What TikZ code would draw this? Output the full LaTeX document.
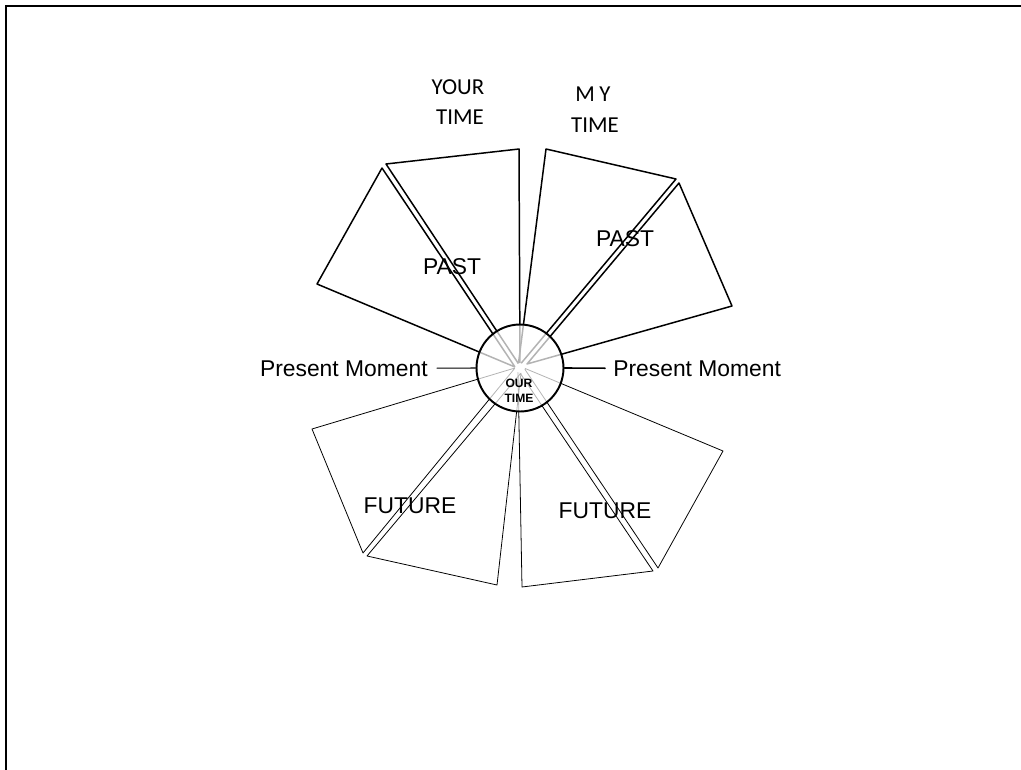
\documentclass[tikz,border=0pt]{standalone}
\usepackage{fontspec}
\setmainfont{Liberation Sans}
\newfontfamily\calibri{Carlito}
\usetikzlibrary{positioning}
\tikzset{
  pastwedge/.style={draw, line width=0.85pt},
  futurewedge/.style={draw, line width=0.45pt},
  biglabel/.style={font=\fontsize{13}{15}\selectfont, inner sep=0pt, anchor=base},
  timelabel/.style={font=\calibri\fontsize{13}{15}\selectfont, inner sep=0pt, anchor=base},
}
\begin{document}
\begin{tikzpicture}[x=0.02cm, y=-0.02cm, line cap=round, line join=round]
  \useasboundingbox (0,0) rectangle (1021,770);

  % frame (only top and left edges are visible)
  \draw[line width=1.4pt, line cap=butt, line join=miter] (6,770) -- (6,6) -- (1021,6);

  % past wedges, upper half
  \draw[pastwedge] (515,367) -- (317,284) -- (382,168) -- cycle;
  \draw[pastwedge] (520,366) -- (386,164) -- (519,149) -- cycle;
  \draw[pastwedge] (518,367) -- (546,149) -- (676,179) -- cycle;
  \draw[pastwedge] (527,364) -- (679,183) -- (732,306) -- cycle;

  % future wedges, lower half
  \draw[futurewedge] (515,368) -- (312,429) -- (363,553) -- cycle;
  \draw[futurewedge] (521,373) -- (367,556) -- (497,585) -- cycle;
  \draw[futurewedge] (518,370) -- (522,587) -- (653,571) -- cycle;
  \draw[futurewedge] (524,368) -- (658,568) -- (723,451) -- cycle;

  % centre disc
  \node[circle, draw, line width=1.1pt, fill=white, fill opacity=0.7, draw opacity=1,
        inner sep=0pt, minimum size=1.74cm] (ourtime) at (520,368) {};
  \fill[white] (ourtime.center) circle (0.1cm);
  \node[align=center, inner sep=0pt, anchor=north, font=\fontsize{6.9}{8.4}\selectfont\bfseries]
        (ourtxt) at (519,379) {OUR\\TIME};

  % labels of the two halves
  \node[timelabel] (yourtop) at (458,95) {YOUR};
  \node[timelabel] (yourbot) at (460,125) {TIME};
  \node[timelabel] (mytop) at (593,102) {M\kern2.5pt Y};
  \node[timelabel] (mybot) at (595,133) {TIME};

  \node[biglabel] (pastL) at (452,275) {PAST};
  \node[biglabel] (pastR) at (625,247) {PAST};
  \node[biglabel] (futL) at (410,513) {FUTURE};
  \node[biglabel] (futR) at (605,518) {FUTURE};

  % present moment markers
  \node[biglabel, anchor=base east] (pmleft) at (428,376) {Present Moment};
  \node[biglabel, anchor=base west] (pmright) at (613,376) {Present Moment};
  \draw[line width=0.6pt, shorten <=0.18cm] (pmleft.east) -- (ourtime.west);
  \draw[line width=0.9pt, shorten <=0.16cm] (pmright.west) -- (ourtime.east);

\end{tikzpicture}
\end{document}
